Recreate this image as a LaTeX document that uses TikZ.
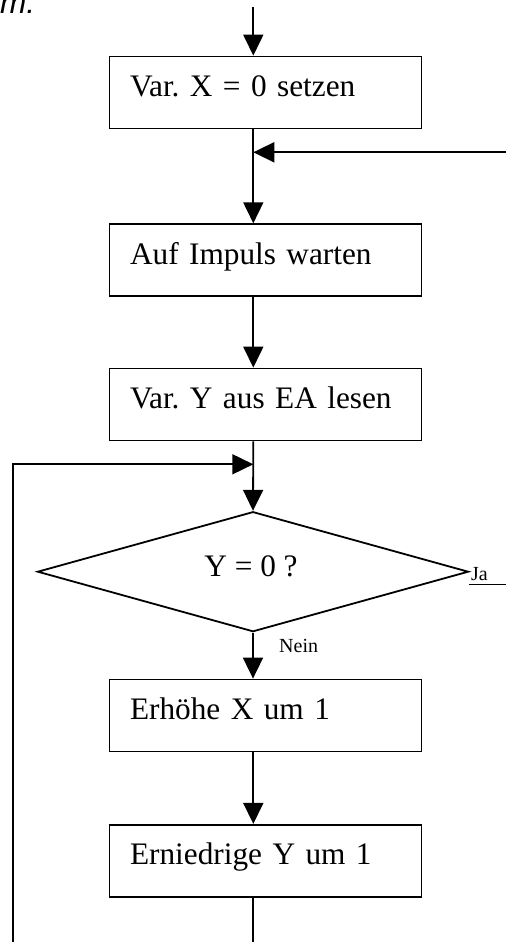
\documentclass[tikz,border=0pt]{standalone}
\usepackage{fontspec}
\setmainfont{Liberation Serif}
\newfontfamily\headsans{Liberation Sans}
\usetikzlibrary{arrows.meta,shapes.geometric}
\begin{document}
\begin{tikzpicture}[x=1pt,y=-1pt,
  flow/.style={line width=1.8pt},
  arr/.style={flow,-{Triangle[length=21pt,width=20pt]}},
  stepbox/.style={draw,line width=1.8pt,rectangle,inner xsep=20.5pt,inner ysep=0pt,
    text width=271pt,align=left,text height=40pt,text depth=32pt,
    font=\fontsize{31.3}{36}\selectfont},
  test/.style={draw,line width=1.8pt,diamond,inner sep=0pt,
    minimum width=431pt,minimum height=120pt},
  big/.style={font=\fontsize{31.3}{36}\selectfont,inner sep=0pt},
  small/.style={font=\fontsize{20}{24}\selectfont,inner sep=0pt}]
\useasboundingbox (0,0) rectangle (506,942);
\clip (0,0) rectangle (506,942);

% heading left over from the page above
\node[anchor=base west,inner sep=0pt,font=\headsans\itshape\fontsize{31.5}{36}\selectfont]
  (head) at (0,14) {m:};

% process steps
\node[stepbox] (b1) at (265.5,92.5)  {Var.\ X = 0 setzen};
\node[stepbox] (b2) at (265.5,260.2) {Auf Impuls warten};
\node[stepbox] (b3) at (265.5,404.5) {Var.\ Y aus EA lesen};
\node[test]    (d)  at (253,571.7)   {};
\node[big,anchor=base] (dq) at (251,576.7) {Y = 0 ?};
\node[stepbox] (b4) at (265.5,715.5) {Erhöhe X um 1};
\node[stepbox] (b5) at (265.5,860.8) {Erniedrige Y um 1};

% free ends of the connectors
\coordinate (entry)    at (253.3,7);
\coordinate (back)     at (506,152.3);
\coordinate (loopfoot) at (13.3,942);
\coordinate (loopjoin) at (253.3,464.3);
\coordinate (yesend)   at (506,584.3);
\coordinate (exit)     at (253.3,942);

% main flow
\draw[arr] (entry) -- (entry |- b1.north);
\draw[arr] (b1.south -| entry) -- (b2.north -| entry);
\draw[arr] (back) -- (back -| entry);
\draw[arr] (b2.south -| entry) -- (b3.north -| entry);
\draw[arr] (b3.south -| entry) -- (d.north);
\draw[arr] (loopfoot) |- (loopjoin);
\draw[arr] (d.south) -- (b4.north -| d.south);
\draw[arr] (b4.south -| entry) -- (b5.north -| entry);
\draw[flow] (b5.south -| entry) -- (exit);

% branch labels
\node[small,anchor=base west] (ja) at (471,580.7) {Ja};
\draw[line width=1.4pt] (yesend -| d.east) -- (yesend);
\node[small,anchor=base west] (nein) at (279,652.3) {Nein};
\end{tikzpicture}
\end{document}
